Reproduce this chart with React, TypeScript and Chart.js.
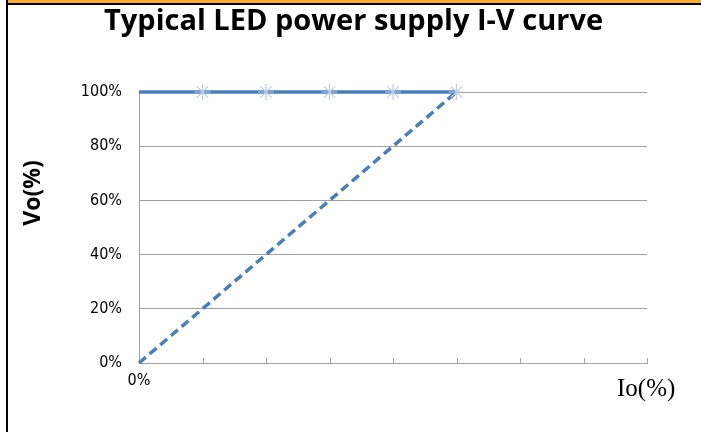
import React, { useEffect, useRef } from "react";
import { Chart, registerables } from "chart.js";

Chart.register(...registerables);

const titleText = "Typical LED power supply I-V curve";
const yTitle = "Vo(%)";
const xTitle = "Io(%)";

// x in units of the horizontal axis divisions (0..8), y in %
const ratedX = [0, 1, 2, 3, 4, 5];
const ratedY = [100, 100, 100, 100, 100, 100];
const rampX = [0, 5];
const rampY = [0, 100];
const markerX = [1, 2, 3, 4, 5];
const markerY = [100, 100, 100, 100, 100];

const xMax = 8;
const yTicks = [0, 20, 40, 60, 80, 100];
const xTickLabels: Record<number, string> = { 0: "0%" };

const BLUE = "#4a7ebb";
const STAR = "#b9cde5";
const GRID = "#a0a0a0";
const tickFont = "'Liberation Sans Narrow', 'DejaVu Sans Condensed', sans-serif";

const toPts = (xs: number[], ys: number[]) => xs.map((x, i) => ({ x, y: ys[i] }));

const decorations = {
  id: "decorations",
  afterDraw(chart: any) {
    const { ctx, scales } = chart;
    const xs = scales.x;
    const bottom = chart.chartArea.bottom;
    ctx.save();
    // inner tick marks on the x axis
    ctx.strokeStyle = GRID;
    ctx.lineWidth = 1;
    for (let v = 1; v <= xMax; v++) {
      const px = Math.round(xs.getPixelForValue(v)) + 0.5;
      ctx.beginPath();
      ctx.moveTo(px, bottom);
      ctx.lineTo(px, bottom - 5);
      ctx.stroke();
    }
    // y axis title
    ctx.fillStyle = "#000";
    ctx.font = "bold 23px 'Open Sans', Lato, sans-serif";
    ctx.textAlign = "center";
    ctx.textBaseline = "middle";
    ctx.translate(33, 193);
    ctx.rotate(-Math.PI / 2);
    ctx.fillText(yTitle, 0, 0);
    ctx.restore();
    // x axis title
    ctx.save();
    ctx.fillStyle = "#000";
    ctx.font = "25px 'Liberation Serif', 'DejaVu Serif', serif";
    ctx.textAlign = "left";
    ctx.textBaseline = "middle";
    ctx.fillText(xTitle, xs.right - 30, bottom + 26);
    ctx.restore();
  },
};

export default function App() {
  const ref = useRef<HTMLCanvasElement | null>(null);

  useEffect(() => {
    const canvas = ref.current;
    if (!canvas) return;
    const chart = new Chart(canvas, {
      type: "line",
      data: {
        datasets: [
          {
            label: "markers",
            data: toPts(markerX, markerY),
            showLine: false,
            pointStyle: "star",
            pointRadius: 8,
            pointBorderColor: STAR,
            pointBackgroundColor: STAR,
            pointBorderWidth: 1.2,
            clip: false,
            order: 0,
          },
          {
            label: "rated",
            data: toPts(ratedX, ratedY),
            borderColor: BLUE,
            borderWidth: 3.5,
            pointRadius: 0,
            fill: false,
            clip: false,
            order: 1,
          },
          {
            label: "ramp",
            data: toPts(rampX, rampY),
            borderColor: BLUE,
            borderWidth: 3.5,
            borderDash: [9, 5],
            pointRadius: 0,
            fill: false,
            clip: false,
            order: 2,
          },
        ],
      },
      options: {
        animation: false,
        responsive: false,
        maintainAspectRatio: false,
        layout: { padding: { left: 60, right: 54, top: 0, bottom: 39 } },
        plugins: {
          legend: { display: false },
          tooltip: { enabled: false },
          title: {
            display: true,
            text: titleText,
            color: "#000",
            font: { family: "'Open Sans', Lato, sans-serif", size: 29, weight: "bold", lineHeight: 1.2 },
            padding: { top: 4.6, bottom: 52.6 },
          },
        },
        scales: {
          x: {
            type: "linear",
            min: 0,
            max: xMax,
            afterFit: (s: any) => {
              s.height = 30;
            },
            afterBuildTicks: (s: any) => {
              const t = [];
              for (let v = 0; v <= xMax; v++) t.push({ value: v });
              s.ticks = t;
            },
            ticks: {
              autoSkip: false,
              maxRotation: 0,
              color: "#000",
              padding: 8,
              font: { family: tickFont, size: 16 },
              callback: (v: any) => xTickLabels[v as number] ?? "",
            },
            grid: { display: true, drawOnChartArea: false, drawTicks: false, color: GRID },
            border: { display: true, color: GRID, width: 1 },
          },
          y: {
            type: "linear",
            min: 0,
            max: 100,
            afterFit: (s: any) => {
              s.width = 79;
            },
            afterBuildTicks: (s: any) => {
              s.ticks = yTicks.map((v) => ({ value: v }));
            },
            ticks: {
              color: "#000",
              padding: 17,
              font: { family: tickFont, size: 16 },
              callback: (v: any) => `${v}%`,
            },
            grid: { color: GRID, lineWidth: 1, drawTicks: false },
            border: { display: true, color: GRID, width: 1 },
          },
        },
      },
      plugins: [decorations],
    });
    return () => chart.destroy();
  }, []);

  return (
    <div style={{ position: "fixed", left: 0, top: 0, width: 701, height: 432, background: "#fff" }}>
      <div style={{ position: "absolute", left: 8, top: 0, right: 0, height: 3, background: "#f8ad2c" }} />
      <div style={{ position: "absolute", left: 6, top: 3, right: 0, height: 2, background: "#000" }} />
      <div style={{ position: "absolute", left: 6, top: 0, width: 2, bottom: 0, background: "#000" }} />
      <canvas ref={ref} width={701} height={432} style={{ position: "absolute", left: 0, top: 0 }} />
    </div>
  );
}
